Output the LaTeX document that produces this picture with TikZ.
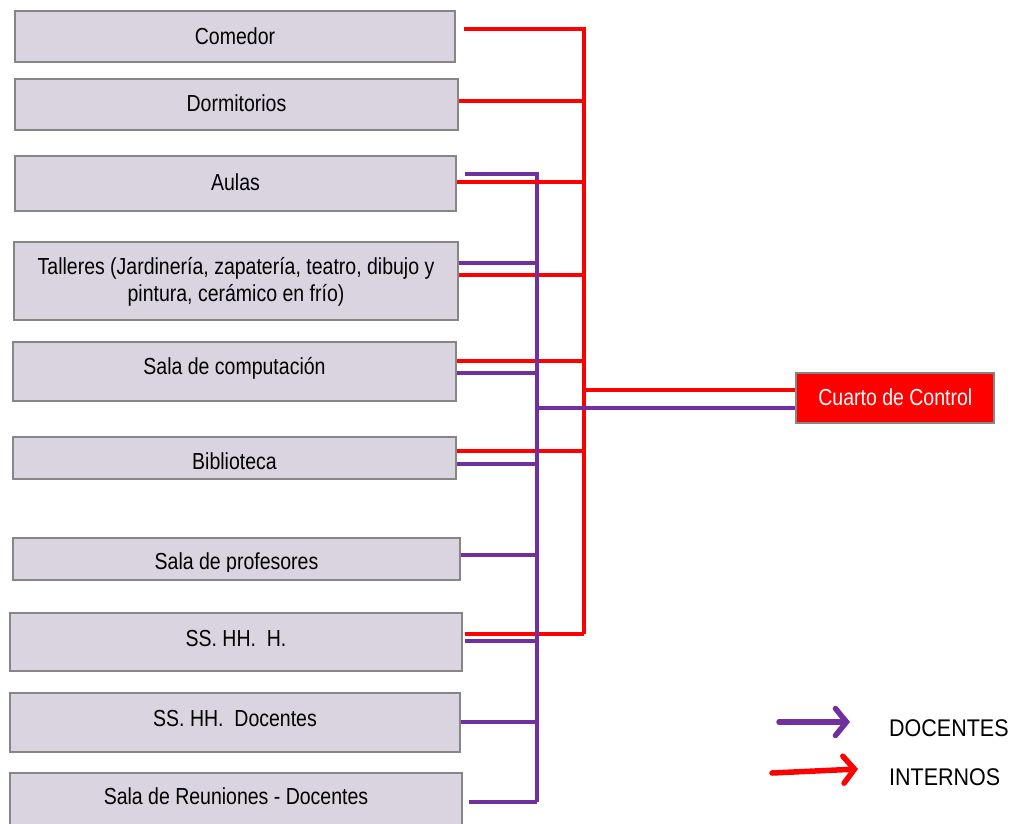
\documentclass[tikz,border=0pt]{standalone}
\usepackage{fontspec}
\setmainfont{Liberation Sans}
\usepackage{graphicx}
\usetikzlibrary{arrows.meta}
\definecolor{boxfill}{HTML}{D9D4E0}
\definecolor{boxline}{HTML}{868686}
\definecolor{docpurple}{HTML}{7030A0}
\definecolor{intred}{HTML}{FF0000}
\newcommand{\stx}[1]{\scalebox{1}[1.19]{#1}}
\tikzset{
  roombox/.style={draw=boxline, line width=1.8pt, fill=boxfill, inner sep=0pt, rectangle},
  ctrlbox/.style={draw=boxline, line width=1.8pt, fill=intred, inner sep=0pt, rectangle},
  lbl/.style={anchor=base, inner sep=0pt, font=\fontsize{19.5}{23}\selectfont},
  leglbl/.style={anchor=base west, inner sep=0pt, font=\fontsize{21.5}{25}\selectfont},
  int/.style={draw=intred, line width=4pt},
  doc/.style={draw=docpurple, line width=3.6pt},
  legarrow/.style={line width=5.5pt, line cap=round, -{Straight Barb[length=11pt,width=27pt,line cap=round]}}
}
\begin{document}
\begin{tikzpicture}[x=1pt,y=-1pt]
\clip (0,0) rectangle (1018,823);
\fill[white] (0,0) rectangle (1018,823);
% room boxes
\node[roombox, minimum width=440pt, minimum height=51pt] (comedor) at (235,36.5) {};
\node[roombox, minimum width=443pt, minimum height=51pt] (dorm) at (236.5,104.5) {};
\node[roombox, minimum width=441pt, minimum height=55pt] (aulas) at (235.5,183.5) {};
\node[roombox, minimum width=444pt, minimum height=78pt] (talleres) at (236,281) {};
\node[roombox, minimum width=443pt, minimum height=59pt] (salacomp) at (234.5,371.5) {};
\node[roombox, minimum width=443pt, minimum height=42pt] (biblio) at (234.5,458) {};
\node[roombox, minimum width=447pt, minimum height=42pt] (salaprof) at (236.5,559) {};
\node[roombox, minimum width=452pt, minimum height=58pt] (sshhh) at (236,642) {};
\node[roombox, minimum width=450pt, minimum height=59pt] (sshhd) at (235,722.5) {};
\node[roombox, minimum width=452pt, minimum height=80pt] (reun) at (236,813) {};
\node[ctrlbox, minimum width=198pt, minimum height=50pt] (cuarto) at (895,398) {};
% labels
\node[lbl] (comedor-l) at (235,44.2) {\stx{Comedor}};
\node[lbl] (dorm-l) at (236.5,111.4) {\stx{Dormitorios}};
\node[lbl] (aulas-l) at (235.5,190) {\stx{Aulas}};
\node[lbl] (talleres-l1) at (236,274) {\stx{Talleres (Jardinería, zapatería, teatro, dibujo y}};
\node[lbl] (talleres-l2) at (236,301) {\stx{pintura, cerámico en frío)}};
\node[lbl] (salacomp-l) at (234.5,374.5) {\stx{Sala de computación}};
\node[lbl] (biblio-l) at (234.5,469.1) {\stx{Biblioteca}};
\begin{scope}
\clip (0,530) rectangle (470,571);
\node[lbl] (salaprof-l) at (236.5,569.6) {\stx{Sala de profesores}};
\end{scope}
\node[lbl] (sshhh-l) at (236,646.3) {\stx{SS. HH.\ \ H.}};
\node[lbl] (sshhd-l) at (235,726.3) {\stx{SS. HH.\ \ Docentes}};
\node[lbl] (reun-l) at (236,804.5) {\stx{Sala de Reuniones - Docentes}};
\node[lbl, text=white] (cuarto-l) at (895.3,405) {\stx{Cuarto de Control}};
% bus anchors
\coordinate (rtop) at (584,29);
\coordinate (rbot) at (584,634);
\coordinate (ptop) at (537,174);
\coordinate (pbot) at (537,802);
% red (internos) connections
\draw[int] ([xshift=8pt]comedor.east |- rtop) -| (rbot);
\draw[int] (dorm.east |- 0,101) -- (rtop |- 0,101);
\draw[int] (talleres.east |- 0,275) -- (rtop |- 0,275);
\draw[int] (salacomp.east |- 0,361) -- (rtop |- 0,361);
\draw[int] (biblio.east |- 0,451) -- (rtop |- 0,451);
\draw[int] ([xshift=2pt]sshhh.east |- rbot) -- (rbot);
\draw[int] (rtop |- 0,390) -- (cuarto.west |- 0,390);
% purple (docentes) connections
\draw[doc] ([xshift=8pt]aulas.east |- ptop) -| (pbot);
\draw[doc] (talleres.east |- 0,263) -- (ptop |- 0,263);
\draw[doc] (salacomp.east |- 0,373) -- (ptop |- 0,373);
\draw[doc] (biblio.east |- 0,464) -- (ptop |- 0,464);
\draw[doc] (salaprof.east |- 0,555) -- (ptop |- 0,555);
\draw[doc] ([xshift=2pt]sshhh.east |- 0,641) -- (ptop |- 0,641);
\draw[doc] (sshhd.east |- 0,722) -- (ptop |- 0,722);
\draw[doc] ([xshift=6pt]reun.east |- pbot) -- (pbot);
\draw[doc] (ptop |- 0,408) -- (cuarto.west |- 0,408);
% aulas red tap lies over the purple bus
\draw[int] (aulas.east |- 0,182) -- (rtop |- 0,182);
% legend
\coordinate (ldoc-s) at (779,722);
\coordinate (ldoc-e) at (850,722);
\coordinate (lint-s) at (772,773);
\coordinate (lint-e) at (858,769);
\draw[legarrow, docpurple] (ldoc-s) -- (ldoc-e);
\draw[legarrow, intred] (lint-s) -- (lint-e);
\node[leglbl] (ldoc-l) at (889,736.5) {\scalebox{1}[1.12]{DOCENTES}};
\node[leglbl] (lint-l) at (889,785) {\scalebox{1}[1.12]{INTERNOS}};
\end{tikzpicture}
\end{document}
